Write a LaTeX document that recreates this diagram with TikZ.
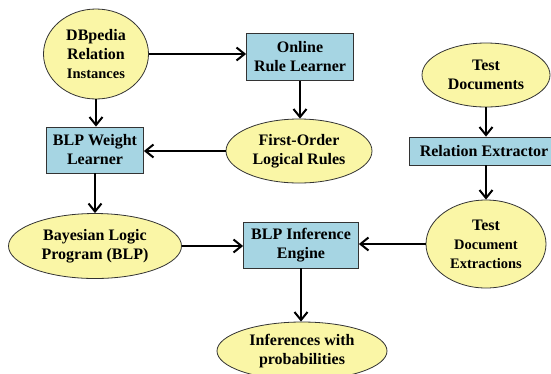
\documentclass[tikz,border=0pt]{standalone}
\usepackage{fontspec}
\setmainfont{Liberation Serif}
\usetikzlibrary{shapes.geometric,arrows.meta}
\definecolor{ylw}{HTML}{FAF6A6}
\definecolor{blu}{HTML}{A6D5E3}
\tikzset{
  ell/.style={ellipse,draw=black!80,line width=0.8pt,fill=ylw,inner sep=0pt,align=center,font=\bfseries\fontsize{16}{19}\selectfont},
  box/.style={rectangle,draw=black!80,line width=0.8pt,fill=blu,inner sep=0pt,align=center,font=\bfseries\fontsize{16}{19}\selectfont},
  arr/.style={line width=2.2pt,-{Straight Barb[length=8pt,width=13pt,line width=2pt]}}
}
\begin{document}
\begin{tikzpicture}[x=1pt,y=-1pt]
\useasboundingbox (0,0) rectangle (551,373);
\begin{scope}
\clip (0,0) rectangle (551,373);
\node[ell,minimum width=105pt,minimum height=90pt] (db) at (96,54) {DBpedia\\Relation\\{\fontsize{14.5}{17}\selectfont Instances}};
\node[box,minimum width=107pt,minimum height=47pt] (orl) at (300,57) {Online\\Rule Learner};
\node[box,minimum width=97pt,minimum height=46pt] (bwl) at (95,150) {BLP Weight\\Learner};
\node[ell,minimum width=146pt,minimum height=64pt] (fol) at (299,151) {First-Order\\Logical Rules};
\node[ell,minimum width=128pt,minimum height=64pt] (td) at (486,75) {Test\\Documents};
\node[box,minimum width=150pt,minimum height=28pt] (re) at (484,151) {Relation Extractor};
\node[ell,minimum width=120pt,minimum height=88pt] (tde) at (486,244) {Test\\{\fontsize{14.5}{17}\selectfont Document}\\{\fontsize{14.5}{17}\selectfont Extractions}};
\node[ell,minimum width=173pt,minimum height=65pt] (blp) at (95,246) {Bayesian Logic\\Program (BLP)};
\node[box,minimum width=115pt,minimum height=46pt] (bie) at (301,245) {BLP Inference\\Engine};
\node[ell,minimum width=170pt,minimum height=58pt] (inf) at (302,351) {Inferences with\\probabilities};
\draw[arr] (db.east) -- (db.east -| orl.west);
\draw[arr] (db.south) -- (db.south |- bwl.north);
\draw[arr] (orl.south) -- (orl.south |- fol.north);
\draw[arr] (fol.west) -- (fol.west -| bwl.east);
\draw[arr] (bwl.south) -- (bwl.south |- blp.north);
\draw[arr] (blp.east) -- (blp.east -| bie.west);
\draw[arr] (tde.west) -- (tde.west -| bie.east);
\draw[arr] (td.south) -- (td.south |- re.north);
\draw[arr] (td.south |- re.south) -- (td.south |- tde.north);
\draw[arr] (bie.south) -- (bie.south |- inf.north);
\end{scope}
\end{tikzpicture}
\end{document}
